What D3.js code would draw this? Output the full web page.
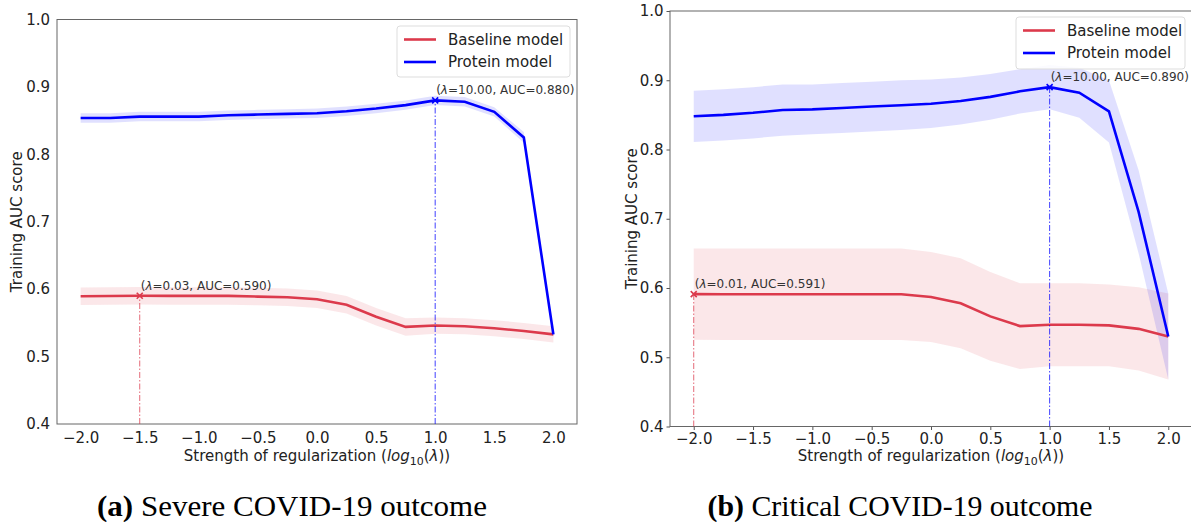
<!DOCTYPE html>
<html>
<head>
<meta charset="utf-8">
<script src="https://cdn.jsdelivr.net/npm/d3@7"></script>
<style>
  body { margin: 0; background: #fff; }
  svg { display: block; }
  text { font-family: "DejaVu Sans", sans-serif; }
</style>
</head>
<body>
<svg id="chart" width="1191" height="522"></svg>
<script>
// log10(lambda) grid
var lambdaLog = [-2, -1.75, -1.5, -1.25, -1, -0.75, -0.5, -0.25, 0, 0.25, 0.5, 0.75, 1, 1.25, 1.5, 1.75, 2];

// (a) severe outcome
var severeBaseline    = [0.5895, 0.5898, 0.5902, 0.590, 0.590, 0.590, 0.589, 0.588, 0.585, 0.577, 0.559, 0.544, 0.546, 0.545, 0.542, 0.538, 0.533];
var severeBaselineStd = [0.013, 0.013, 0.013, 0.013, 0.013, 0.013, 0.013, 0.013, 0.013, 0.013, 0.013, 0.013, 0.012, 0.012, 0.012, 0.012, 0.012];
var severeProtein     = [0.854, 0.854, 0.856, 0.856, 0.856, 0.858, 0.859, 0.860, 0.861, 0.864, 0.868, 0.873, 0.880, 0.878, 0.863, 0.825, 0.533];
var severeProteinStd  = [0.007, 0.007, 0.007, 0.007, 0.007, 0.007, 0.007, 0.007, 0.007, 0.007, 0.007, 0.007, 0.007, 0.007, 0.007, 0.008, 0.006];

// (b) critical outcome
var criticalBaseline    = [0.5912, 0.591, 0.591, 0.591, 0.591, 0.591, 0.591, 0.591, 0.587, 0.578, 0.559, 0.545, 0.547, 0.547, 0.546, 0.541, 0.530];
var criticalBaselineStd = [0.066, 0.066, 0.066, 0.066, 0.066, 0.066, 0.066, 0.066, 0.065, 0.065, 0.064, 0.062, 0.060, 0.060, 0.059, 0.060, 0.062];
var criticalProtein     = [0.848, 0.850, 0.853, 0.857, 0.858, 0.860, 0.862, 0.864, 0.866, 0.870, 0.876, 0.884, 0.890, 0.882, 0.855, 0.710, 0.530];
var criticalProteinStd  = [0.037, 0.037, 0.037, 0.037, 0.036, 0.036, 0.036, 0.036, 0.035, 0.034, 0.033, 0.032, 0.032, 0.036, 0.045, 0.060, 0.062];

var xTicks = [-2, -1.5, -1, -0.5, 0, 0.5, 1, 1.5, 2];
var yTicks = [0.4, 0.5, 0.6, 0.7, 0.8, 0.9, 1.0];
var seriesNames = ["Baseline model", "Protein model"];

var red = "#dc3a4c", blue = "#0000ff";
var svg = d3.select("#chart");

function drawPanel(p) {
	var x = d3.scaleLinear().domain([-2.2, 2.2]).range([p.left, p.right]);
	var y = d3.scaleLinear().domain([0.4, 1.0]).range([p.bottom, p.top]);
	var g = svg.append("g");

	var xAxis = g.append("g")
		.attr("transform", "translate(0," + p.bottom + ")")
		.call(d3.axisBottom(x).tickValues(xTicks).tickFormat(d3.format(".1f"))
			.tickSize(p.tick).tickSizeOuter(0).tickPadding(p.tick ? 3 : 8));
	var yAxis = g.append("g")
		.attr("transform", "translate(" + p.left + ",0)")
		.call(d3.axisLeft(y).tickValues(yTicks).tickFormat(d3.format(".1f"))
			.tickSize(p.tick).tickSizeOuter(0).tickPadding(p.tick ? 3 : 7));
	[xAxis, yAxis].forEach(function(a) {
		a.select(".domain").remove();
		a.selectAll("line").attr("stroke", "#555");
		a.selectAll("text").attr("fill", "#222").style("font-size", "15px");
	});

	// frame
	g.append("rect")
		.attr("x", p.left).attr("y", p.top)
		.attr("width", p.right - p.left).attr("height", p.bottom - p.top)
		.attr("fill", "none").attr("stroke", "#666").attr("stroke-width", 1);

	var series = [
		{ v: p.base, s: p.baseStd, color: red, bandOpacity: 0.12 },
		{ v: p.prot, s: p.protStd, color: blue, bandOpacity: 0.12 }
	];

	series.forEach(function(sr) {
		var area = d3.area()
			.x(function(d, i) { return x(lambdaLog[i]); })
			.y0(function(d, i) { return y(d - sr.s[i]); })
			.y1(function(d, i) { return y(d + sr.s[i]); });
		g.append("path").attr("d", area(sr.v))
			.attr("fill", sr.color).attr("fill-opacity", sr.bandOpacity);
	});
	series.forEach(function(sr) {
		var line = d3.line()
			.x(function(d, i) { return x(lambdaLog[i]); })
			.y(function(d) { return y(d); });
		g.append("path").attr("d", line(sr.v))
			.attr("fill", "none").attr("stroke", sr.color).attr("stroke-width", 2.6);
	});

	// best point of each curve
	series.forEach(function(sr) {
		var k = d3.maxIndex(sr.v),
			bx = x(lambdaLog[k]),
			by = y(sr.v[k]);
		g.append("line")
			.attr("x1", bx).attr("x2", bx)
			.attr("y1", y(0.4)).attr("y2", by)
			.attr("stroke", sr.color).attr("stroke-width", 1)
			.attr("stroke-opacity", 0.75)
			.attr("stroke-dasharray", "6,2,1.5,2");
		g.append("path")
			.attr("d", "M-3,-3L3,3M-3,3L3,-3")
			.attr("transform", "translate(" + bx + "," + by + ")")
			.attr("stroke", sr.color).attr("stroke-width", 1.6);
		var t = g.append("text")
			.attr("x", bx + 1).attr("y", by - 6)
			.attr("fill", "#333").style("font-size", "12px");
		t.append("tspan").text("(");
		t.append("tspan").attr("font-style", "italic").text("λ");
		t.append("tspan").text("=" + d3.format(".2f")(Math.pow(10, lambdaLog[k])) +
			", AUC=" + d3.format(".3f")(sr.v[k]) + ")");
	});

	// legend
	var lg = g.append("g");
	lg.append("rect")
		.attr("x", p.legend[0]).attr("y", p.legend[1])
		.attr("width", p.legend[2]).attr("height", p.legend[3])
		.attr("rx", 3).attr("fill", "#fff").attr("fill-opacity", 0.85)
		.attr("stroke", "#ddd");
	seriesNames.forEach(function(name, i) {
		var ry = p.legend[1] + 13.5 + i * 22.5;
		lg.append("line")
			.attr("x1", p.legend[0] + 7).attr("x2", p.legend[0] + 39)
			.attr("y1", ry).attr("y2", ry)
			.attr("stroke", series[i].color).attr("stroke-width", 2.6);
		lg.append("text")
			.attr("x", p.legend[0] + 51).attr("y", ry).attr("dy", "0.36em")
			.attr("fill", "#222").style("font-size", "15px")
			.text(name);
	});

	// axis titles
	g.append("text")
		.attr("transform", "translate(" + p.yLabelX + "," + ((p.top + p.bottom) / 2) + ") rotate(-90)")
		.attr("text-anchor", "middle").attr("fill", "#222").style("font-size", "15px")
		.text("Training AUC score");
	var xl = g.append("text")
		.attr("x", (p.left + p.right) / 2).attr("y", 461)
		.attr("text-anchor", "middle").attr("fill", "#222").style("font-size", "15px");
	xl.append("tspan").text("Strength of regularization (");
	xl.append("tspan").attr("font-style", "italic").text("log");
	xl.append("tspan").attr("dy", 4).style("font-size", "11px").text("10");
	xl.append("tspan").attr("dy", -4).text("(");
	xl.append("tspan").attr("font-style", "italic").text("λ");
	xl.append("tspan").text("))");

	// caption
	var cap = svg.append("text")
		.attr("x", p.captionX).attr("y", 516)
		.attr("text-anchor", "middle")
		.attr("textLength", p.captionWidth)
		.attr("lengthAdjust", "spacingAndGlyphs")
		.style("font-family", "'Liberation Serif', serif")
		.style("font-size", "30px").attr("fill", "#000");
	cap.append("tspan").attr("font-weight", "bold").text(p.captionTag);
	cap.append("tspan").text(" " + p.caption);
}

drawPanel({
	left: 57, right: 577, top: 19.5, bottom: 424, tick: 0,
	base: severeBaseline, baseStd: severeBaselineStd,
	prot: severeProtein, protStd: severeProteinStd,
	legend: [397, 26, 173, 51],
	yLabelX: 22, captionX: 292, captionWidth: 390,
	captionTag: "(a)", caption: "Severe COVID-19 outcome"
});

drawPanel({
	left: 670, right: 1192, top: 11, bottom: 426.5, tick: 3.5,
	base: criticalBaseline, baseStd: criticalBaselineStd,
	prot: criticalProtein, protStd: criticalProteinStd,
	legend: [1016, 17, 169, 52],
	yLabelX: 637, captionX: 900, captionWidth: 385,
	captionTag: "(b)", caption: "Critical COVID-19 outcome"
});
</script>
</body>
</html>
